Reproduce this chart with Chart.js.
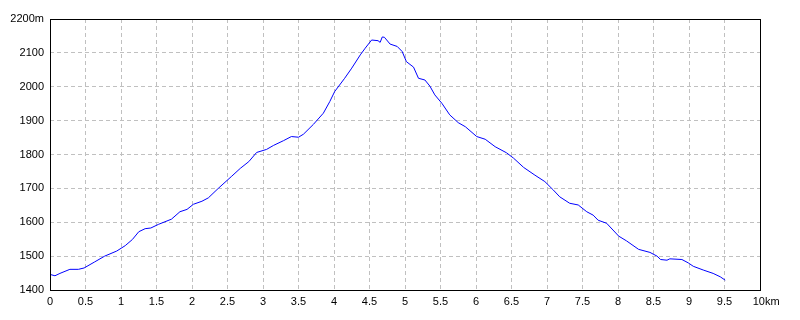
<!DOCTYPE html>
<html>
<head>
<meta charset="utf-8">
<script src="https://cdn.jsdelivr.net/npm/chart.js@4"></script>
<style>
html,body{margin:0;padding:0;background:#fff;}
#wrap{width:800px;height:320px;}
</style>
</head>
<body>
<div id="wrap"><canvas id="profileChart"></canvas></div>
<script>
// Elevation profile

const distKm = [0, 0.07, 0.14, 0.28, 0.4, 0.48, 0.63, 0.77, 0.94, 1.06, 1.16, 1.25, 1.34, 1.42, 1.53, 1.71, 1.83, 1.93, 2.02, 2.14, 2.23, 2.37, 2.56, 2.68, 2.8, 2.91, 3.05, 3.15, 3.29, 3.4, 3.5, 3.57, 3.71, 3.85, 3.94, 4.01, 4.15, 4.25, 4.37, 4.44, 4.53, 4.62, 4.65, 4.68, 4.71, 4.79, 4.89, 4.96, 5.02, 5.12, 5.19, 5.28, 5.35, 5.42, 5.52, 5.63, 5.75, 5.85, 6.01, 6.13, 6.27, 6.43, 6.53, 6.67, 6.83, 6.97, 7.09, 7.18, 7.32, 7.44, 7.56, 7.65, 7.72, 7.84, 8.01, 8.12, 8.29, 8.45, 8.55, 8.6, 8.69, 8.73, 8.9, 8.99, 9.06, 9.2, 9.34, 9.44, 9.51];

const elevM = [1446, 1442, 1449, 1461, 1461, 1465, 1483, 1500, 1515, 1531, 1549, 1572, 1581, 1583, 1594, 1609, 1631, 1638, 1653, 1662, 1672, 1700, 1736, 1759, 1779, 1806, 1815, 1827, 1841, 1853, 1851, 1860, 1889, 1922, 1956, 1986, 2025, 2055, 2094, 2114, 2138, 2136, 2131, 2147, 2146, 2126, 2119, 2104, 2074, 2058, 2025, 2020, 2002, 1976, 1951, 1917, 1894, 1882, 1853, 1845, 1823, 1805, 1789, 1762, 1739, 1720, 1695, 1675, 1656, 1651, 1631, 1621, 1606, 1597, 1559, 1545, 1520, 1511, 1500, 1490, 1488, 1492, 1490, 1480, 1470, 1459, 1449, 1439, 1429];

const xMin = 0, xMax = 10, xStep = 0.5;
const yMin = 1400, yMax = 2200, yStep = 100;

const points = distKm.map((d, i) => ({x: d, y: elevM[i]}));

// black frame round the plot area
const frame = {
  id: "frame",
  afterDraw(chart) {
    const a = chart.chartArea, c = chart.ctx;
    c.save();
    c.strokeStyle = "#000";
    c.lineWidth = 1;
    c.strokeRect(Math.round(a.left) + 0.5, Math.round(a.top) + 0.5, Math.round(a.right - a.left), Math.round(a.bottom - a.top));
    c.restore();
  }
};

const tickFont = {family: "Liberation Sans", size: 11};
const gridStyle = {color: "#c0c0c0", lineWidth: 1, drawTicks: false};

new Chart(document.getElementById("profileChart"), {
  type: "line",
  data: {
    datasets: [{
      data: points,
      borderColor: "#0000ff",
      borderWidth: 1,
      pointRadius: 0,
      tension: 0,
      fill: false
    }]
  },
  options: {
    responsive: true,
    maintainAspectRatio: false,
    animation: false,
    layout: {padding: {top: 19, right: 40, left: 0, bottom: 0}},
    plugins: {legend: {display: false}, tooltip: {enabled: false}},
    scales: {
      x: {
        type: "linear",
        min: xMin,
        max: xMax,
        grid: gridStyle,
        border: {display: false, dash: [4, 3]},
        ticks: {
          stepSize: xStep,
          autoSkip: false,
          maxRotation: 0,
          padding: 5,
          color: "#000",
          font: tickFont,
          callback: v => v === xMax ? "    " + v + "km" : v
        },
        afterFit: s => { s.height = 30; }
      },
      y: {
        min: yMin,
        max: yMax,
        grid: gridStyle,
        border: {display: false, dash: [4, 3]},
        ticks: {
          stepSize: yStep,
          padding: 6,
          color: "#000",
          font: tickFont,
          callback: v => v === yMax ? v + "m" : v
        },
        afterFit: s => { s.width = 50; }
      }
    }
  },
  plugins: [frame]
});
</script>
</body>
</html>
